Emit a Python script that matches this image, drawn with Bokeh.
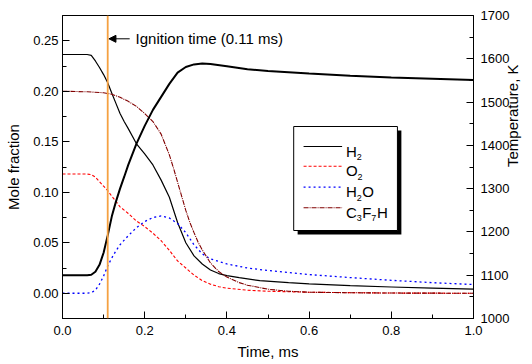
import math
from bokeh.plotting import figure
from bokeh.models import (Range1d, LinearAxis, FixedTicker, PrintfTickFormatter,
                          Span, Label, Arrow, NormalHead, BoxAnnotation)
from bokeh.embed import file_html
from bokeh.resources import INLINE

# ---------------- data ----------------
ignition_time = 0.11
ignition_text = "Ignition time (0.11 ms)"

x_ticks = [0.0, 0.2, 0.4, 0.6, 0.8, 1.0]
x_minor = [0.1, 0.3, 0.5, 0.7, 0.9]
y_ticks = [0.00, 0.05, 0.10, 0.15, 0.20, 0.25]
y_minor = [-0.025, 0.025, 0.075, 0.125, 0.175, 0.225, 0.275]
t_ticks = [1000, 1100, 1200, 1300, 1400, 1500, 1600, 1700]
t_minor = [1050, 1150, 1250, 1350, 1450, 1550, 1650]

time_h2 = [0.0, 0.06, 0.07, 0.08, 0.09, 0.10, 0.11, 0.12, 0.13, 0.14, 0.15, 0.16, 0.18,
           0.20, 0.22, 0.24, 0.26, 0.28, 0.30, 0.32, 0.34, 0.36, 0.38, 0.40, 0.43, 0.48,
           0.55, 0.60, 0.70, 0.80, 0.90, 1.00]
h2 = [0.2364, 0.2364, 0.2355, 0.2300, 0.2235, 0.2165, 0.2084, 0.198, 0.188, 0.178, 0.170,
      0.163, 0.148, 0.138, 0.127, 0.112, 0.095, 0.070, 0.050, 0.037, 0.029, 0.023, 0.0195,
      0.0175, 0.0155, 0.0125, 0.0105, 0.0092, 0.0075, 0.0062, 0.0050, 0.0040]

time_o2 = [0.0, 0.06, 0.07, 0.08, 0.09, 0.10, 0.11, 0.12, 0.13, 0.14, 0.16, 0.18, 0.20,
           0.22, 0.24, 0.26, 0.28, 0.30, 0.32, 0.34, 0.36, 0.38, 0.40, 0.45, 0.50, 0.60,
           0.80, 1.00]
o2 = [0.1180, 0.1180, 0.1175, 0.1150, 0.1105, 0.1060, 0.1016, 0.0960, 0.0910, 0.0855,
      0.0790, 0.0715, 0.0660, 0.0595, 0.0520, 0.0425, 0.0320, 0.0250, 0.0180, 0.0125,
      0.0090, 0.0065, 0.0050, 0.0030, 0.0020, 0.0010, 0.0002, 0.0000]

time_h2o = [0.0, 0.06, 0.07, 0.08, 0.09, 0.10, 0.11, 0.12, 0.13, 0.14, 0.16, 0.18, 0.20,
            0.22, 0.24, 0.26, 0.28, 0.30, 0.32, 0.34, 0.36, 0.38, 0.40, 0.45, 0.50, 0.60,
            0.70, 0.80, 0.90, 1.00]
h2o = [0.0, 0.0, 0.0005, 0.003, 0.009, 0.017, 0.027, 0.035, 0.042, 0.048, 0.057, 0.065,
       0.071, 0.075, 0.0765, 0.0745, 0.069, 0.060, 0.048, 0.039, 0.034, 0.0315, 0.029,
       0.025, 0.0225, 0.0185, 0.0155, 0.0128, 0.0105, 0.0086]

time_c3f7h = [0.0, 0.06, 0.10, 0.12, 0.14, 0.16, 0.18, 0.20, 0.22, 0.24, 0.26, 0.27, 0.28,
              0.29, 0.30, 0.31, 0.32, 0.33, 0.34, 0.36, 0.38, 0.40, 0.43, 0.45, 0.50, 0.55,
              0.60, 0.70, 0.80, 1.00]
c3f7h = [0.2000, 0.1995, 0.1985, 0.1970, 0.1940, 0.1900, 0.1850, 0.1780, 0.1700, 0.1575,
         0.1370, 0.1240, 0.1100, 0.0960, 0.0820, 0.0700, 0.0600, 0.0505, 0.0430, 0.0300,
         0.0215, 0.0160, 0.0105, 0.0080, 0.0040, 0.0020, 0.0010, 0.0005, 0.0002, 0.0000]

time_temp = [0.0, 0.06, 0.07, 0.08, 0.09, 0.10, 0.11, 0.12, 0.13, 0.14, 0.15, 0.16, 0.18,
             0.20, 0.22, 0.24, 0.26, 0.28, 0.30, 0.32, 0.34, 0.36, 0.40, 0.45, 0.50, 0.60,
             0.70, 0.80, 0.90, 1.00]
temperature = [1100, 1100, 1101, 1108, 1124, 1152, 1192, 1236, 1270, 1300, 1327, 1355, 1404,
               1445, 1482, 1512, 1542, 1568, 1581, 1587, 1589, 1588, 1583, 1576, 1572, 1566,
               1561, 1557, 1554, 1551]

x_range = (0.0, 1.0)
y_range = (-0.025, 0.275)
t_range = (1000, 1700)

x_title = "Time, ms"
y_title = "Mole fraction"
t_title = "Temperature, K"

# ---------------- layout / styles ----------------
W, H = 532, 364
BL, BR, BT, BB = 62, 54, 15, 46
FW, FH = W - BL - BR, H - BT - BB
FONT = "Liberation Sans"


def dx(px):  # pixels from frame left -> data x
    return x_range[0] + px / FW * (x_range[1] - x_range[0])


def dy(py):  # pixels from frame top -> data y
    return y_range[1] - py / FH * (y_range[1] - y_range[0])


p = figure(width=W, height=H, x_range=Range1d(*x_range), y_range=Range1d(*y_range),
           output_backend="svg", toolbar_location=None,
           min_border_left=BL, min_border_right=BR, min_border_top=BT, min_border_bottom=BB)
p.extra_y_ranges = {"T": Range1d(*t_range)}
p.add_layout(LinearAxis(y_range_name="T"), "right")

p.grid.visible = False
p.outline_line_color = "black"
p.outline_line_width = 1
p.background_fill_color = "white"
p.border_fill_color = "white"

for ax in p.axis:
    ax.axis_line_color = "black"
    ax.major_tick_in = 7
    ax.major_tick_out = 0
    ax.minor_tick_in = 4
    ax.minor_tick_out = 0
    ax.major_tick_line_color = "black"
    ax.minor_tick_line_color = "black"
    ax.major_label_text_font = FONT
    ax.major_label_text_font_size = "13px"
    ax.major_label_text_color = "black"
    ax.axis_label_text_font = FONT
    ax.axis_label_text_font_style = "normal"
    ax.axis_label_text_color = "black"
    ax.axis_label_text_font_size = "15px"

xax = p.xaxis[0]
xax.ticker = FixedTicker(ticks=x_ticks, minor_ticks=x_minor)
xax.formatter = PrintfTickFormatter(format="%.1f")
xax.major_label_standoff = 7
xax.axis_label = x_title
xax.axis_label_standoff = 5

lax = p.yaxis[0]
lax.ticker = FixedTicker(ticks=y_ticks, minor_ticks=y_minor)
lax.formatter = PrintfTickFormatter(format="%.2f")
lax.major_label_standoff = 4
lax.axis_label = y_title
lax.axis_label_standoff = 8

rax = p.yaxis[1]
rax.ticker = FixedTicker(ticks=t_ticks, minor_ticks=t_minor)
rax.formatter = PrintfTickFormatter(format="%d")
rax.major_label_standoff = 7
rax.axis_label = t_title
rax.axis_label_standoff = 0
try:
    rax.axis_label_orientation = math.pi / 2
except Exception:
    pass

# ---------------- curves ----------------
styles = {
    "h2": dict(line_color="black", line_width=1.2),
    "o2": dict(line_color="#FF0000", line_width=1.1, line_dash="3 2"),
    "h2o": dict(line_color="#0000FF", line_width=1.3, line_dash="2 3"),
    "c3f7h": dict(line_color="#800000", line_width=1.1, line_dash="5 1 1 1"),
}
p.line(time_h2, h2, **styles["h2"])
p.line(time_o2, o2, **styles["o2"])
p.line(time_h2o, h2o, **styles["h2o"])
p.line(time_c3f7h, c3f7h, **styles["c3f7h"])
p.line(time_temp, temperature, y_range_name="T", line_color="black", line_width=2)

p.add_layout(Span(location=ignition_time, dimension="height", line_color="#F5A142",
                  line_width=1.8))

# ignition annotation
p.add_layout(Arrow(x_start=dx(68), y_start=dy(23.3), x_end=dx(47), y_end=dy(23.3),
                   line_color="black", line_width=1,
                   end=NormalHead(size=7, fill_color="black", line_color="black")))
p.add_layout(Label(x=dx(74), y=dy(22.5), text=ignition_text, text_font=FONT,
                   text_font_size="15px", text_baseline="middle", text_color="black"))

# ---------------- legend (drawn by hand, for the subscripts) ----------------
box_l, box_r, box_t, box_b = 234, 339, 111, 215
shadow = 4
p.add_layout(BoxAnnotation(left=dx(box_l + shadow), right=dx(box_r + shadow),
                           top=dy(box_t + shadow), bottom=dy(box_b + shadow),
                           fill_color="black", fill_alpha=1, line_alpha=0))
p.add_layout(BoxAnnotation(left=dx(box_l), right=dx(box_r), top=dy(box_t), bottom=dy(box_b),
                           fill_color="white", fill_alpha=1, line_color="black",
                           line_width=1, line_alpha=1))

rows = [131, 150.7, 171.7, 192.3]
MAIN, SUB = 15, 9
wd = {"H": 0.722 * MAIN, "O": 0.778 * MAIN, "C": 0.722 * MAIN, "F": 0.611 * MAIN}
legend_entries = [
    ("h2", [("H", False), ("2", True)]),
    ("o2", [("O", False), ("2", True)]),
    ("h2o", [("H", False), ("2", True), ("O", False)]),
    ("c3f7h", [("C", False), ("3", True), ("F", False), ("7", True), ("H", False)]),
]
for ry, (key, parts) in zip(rows, legend_entries):
    st = dict(styles[key])
    p.add_layout(Arrow(x_start=dx(244), y_start=dy(ry), x_end=dx(283), y_end=dy(ry),
                       end=None, **st))
    xp = 287
    for txt, is_sub in parts:
        if is_sub:
            p.add_layout(Label(x=dx(xp), y=dy(ry + 10.5), text=txt, text_font=FONT,
                               text_font_size=f"{SUB}px", text_baseline="alphabetic",
                               text_color="black"))
            xp += 0.556 * SUB + 0.6
        else:
            p.add_layout(Label(x=dx(xp), y=dy(ry + 4.5), text=txt, text_font=FONT,
                               text_font_size=f"{MAIN}px", text_baseline="alphabetic",
                               text_color="black"))
            xp += wd[txt]

open("out.html", "w").write(file_html(p, INLINE))
